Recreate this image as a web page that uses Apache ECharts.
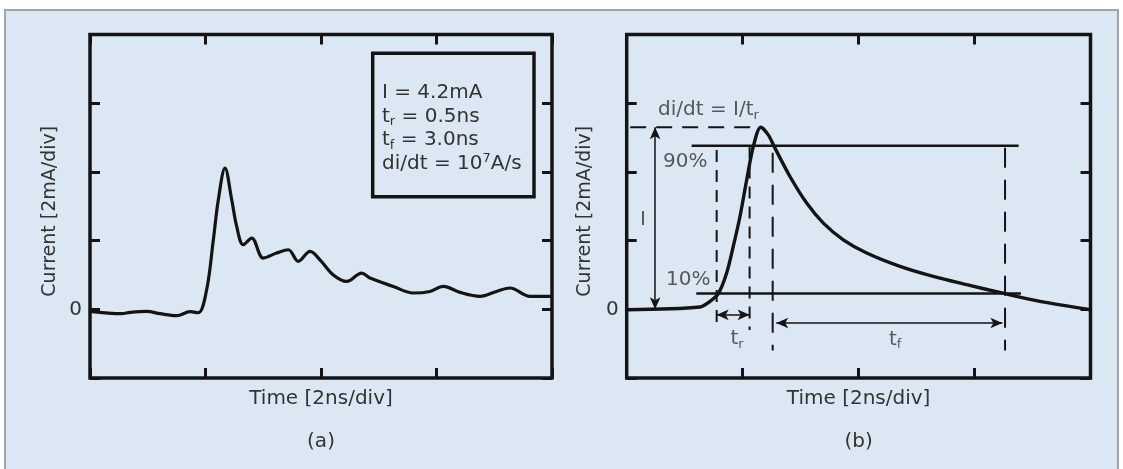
<!DOCTYPE html>
<html>
<head>
<meta charset="utf-8">
<script src="https://cdn.jsdelivr.net/npm/echarts@6/dist/echarts.min.js"></script>
<style>
html,body{margin:0;padding:0;background:#ffffff;}
#chart{width:1123px;height:469px;}
</style>
</head>
<body>
<div id="chart"></div>
<script>
// ---------- DATA (time in divisions of 2 ns, current in divisions of 2 mA) ----------
// (a) measured waveform
const timeA = [0, 0.274, 0.346, 0.491, 0.606, 0.751, 0.866, 0.938, 1.010, 1.068, 1.111, 1.169, 1.227, 1.270, 1.327, 1.400, 1.500, 1.616, 1.717, 1.803, 1.905, 1.991, 2.107, 2.222, 2.352, 2.424, 2.626, 2.799, 2.944, 3.059, 3.203, 3.377, 3.521, 3.636, 3.810, 4.0];
const currentA = [-0.03, -0.064, -0.045, -0.03, -0.064, -0.093, -0.035, -0.05, 0.285, 1.012, 1.594, 2.055, 1.594, 1.206, 0.940, 1.037, 0.746, 0.819, 0.867, 0.697, 0.842, 0.721, 0.50, 0.406, 0.528, 0.455, 0.333, 0.237, 0.26, 0.333, 0.246, 0.188, 0.26, 0.310, 0.188, 0.188];

// (b) idealised pulse
const timeB = [0, 0.632, 0.718, 0.790, 0.862, 0.919, 0.977, 1.035, 1.092, 1.156, 1.221, 1.279, 1.408, 1.552, 1.696, 1.868, 2.070, 2.357, 2.644, 2.932, 3.263, 3.564, 4.0];
const currentB = [-0.006, 0.033, 0.115, 0.227, 0.528, 0.915, 1.351, 1.885, 2.369, 2.651, 2.539, 2.346, 1.933, 1.546, 1.255, 1.012, 0.819, 0.624, 0.478, 0.358, 0.227, 0.115, -0.006];

// (b) annotation values
const peakLevel = 2.65;          // I
const level90 = 2.38;            // 90 % line
const level10 = 0.23;            // 10 % line
const peakDashX = [0.03, 1.12];
const line90X = [0.56, 3.38];
const line10X = [0.60, 3.40];
const trX = [0.776, 1.06];       // rise-time markers
const trTop = [2.32, 2.37];
const trBottom = -0.30;
const tfX = [1.259, 3.263];      // fall-time markers
const tfTop = [2.28, 2.35];
const tfBottom = -0.60;
const ampArrowX = 0.245;
const trArrowY = -0.08;
const tfArrowY = -0.20;
const tfArrowX = [1.29, 3.24];

// (b) text labels
const annotText  = ['di/dt = I/t{sub|r}', '90%', '10%', 'I', 't{sub|r}', 't{sub|f}'];
const annotX     = [0.27, 0.313, 0.339, 0.14, 0.951, 2.315];
const annotY     = [2.90, 2.15, 0.43, 1.30, -0.43, -0.44];
const annotAlign = ['left', 'left', 'left', 'center', 'center', 'center'];

// (a) parameter box
const paramLines = ['I = 4.2mA', 't{sub|r} = 0.5ns', 't{sub|f} = 3.0ns', 'di/dt = 10{sup|7}A/s'];

// axis texts
const xAxisTitle = 'Time [2ns/div]';
const yAxisTitle = 'Current [2mA/div]';
const panelLabels = ['(a)', '(b)'];

// ---------- STYLE ----------
const FONT = 'DejaVu Sans';
const INK = '#141414';
const TXT = '#333333';
const BG = '#dbe8f4';
const richStyles = {
  sub: {fontSize: 13, lineHeight: 13, verticalAlign: 'bottom', fontFamily: FONT, color: TXT},
  sup: {fontSize: 13, lineHeight: 13, verticalAlign: 'top', fontFamily: FONT, color: TXT}
};

const grids = [
  {left: 90, top: 34.5, width: 462, height: 343.5},
  {left: 626.7, top: 34.5, width: 463.8, height: 343.5}
];

const tick = {show: true, inside: true, length: 10, lineStyle: {color: INK, width: 3}};
const xAxes = [], yAxes = [];
grids.forEach((g, gi) => {
  const xc = {type: 'value', gridIndex: gi, min: 0, max: 4, interval: 1,
    axisLine: {show: false, onZero: false}, splitLine: {show: false}, axisTick: tick, axisLabel: {show: false}};
  xAxes.push(Object.assign({}, xc, {position: 'bottom', name: xAxisTitle, nameLocation: 'middle', nameGap: 11,
    nameTextStyle: {fontFamily: FONT, fontSize: 20, color: TXT}}));
  xAxes.push(Object.assign({}, xc, {position: 'top'}));
  const yc = {type: 'value', gridIndex: gi, min: -1, max: 4, interval: 1,
    axisLine: {show: false, onZero: false}, splitLine: {show: false}, axisTick: tick};
  yAxes.push(Object.assign({}, yc, {position: 'left',
    axisLabel: {show: true, margin: 8, formatter: v => (v === 0 ? '0' : ''), fontFamily: FONT, fontSize: 20, color: TXT},
    name: yAxisTitle, nameLocation: 'middle', nameGap: gi === 0 ? 30 : 32,
    nameTextStyle: {fontFamily: FONT, fontSize: 19, color: TXT, padding: [0, 10, 0, 0]}}));
  yAxes.push(Object.assign({}, yc, {position: 'right', axisLabel: {show: false}}));
});

function seg(pts, style, extra) {
  return Object.assign({type: 'line', xAxisIndex: 2, yAxisIndex: 2, data: pts, symbol: 'none',
    silent: true, lineStyle: Object.assign({color: INK}, style)}, extra || {});
}

const series = [
  {type: 'line', name: 'measured', xAxisIndex: 0, yAxisIndex: 0, symbol: 'none', smooth: 0.35,
    data: timeA.map((t, i) => [t, currentA[i]]), lineStyle: {color: INK, width: 3.2}},
  {type: 'line', name: 'pulse', xAxisIndex: 2, yAxisIndex: 2, symbol: 'none', smooth: 0.3,
    data: timeB.map((t, i) => [t, currentB[i]]), lineStyle: {color: INK, width: 3.4}},
  seg([[peakDashX[0], peakLevel], [peakDashX[1], peakLevel]], {width: 2, type: [16, 10]}),
  seg([[line90X[0], level90], [line90X[1], level90]], {width: 2.5}),
  seg([[line10X[0], level10], [line10X[1], level10]], {width: 2.5}, {
    markLine: {silent: true, symbol: ['arrow', 'arrow'], symbolSize: [8, 12],
      lineStyle: {type: 'solid', color: INK, width: 1.5}, label: {show: false},
      data: [
        [{coord: [ampArrowX, peakLevel]}, {coord: [ampArrowX, 0]}],
        [{coord: [trX[0], trArrowY]}, {coord: [trX[1], trArrowY]}],
        [{coord: [tfArrowX[0], tfArrowY]}, {coord: [tfArrowX[1], tfArrowY]}]
      ]}
  })
];
trX.forEach((x, i) => series.push(seg([[x, trTop[i]], [x, trBottom]], {width: 2, type: [12, 8]})));
tfX.forEach((x, i) => series.push(seg([[x, tfTop[i]], [x, tfBottom]], {width: 2, type: [20, 12]})));

series.push({type: 'scatter', xAxisIndex: 2, yAxisIndex: 2, symbolSize: 0, silent: true,
  data: annotText.map((t, i) => ({
    value: [annotX[i], annotY[i]],
    label: {show: true, formatter: t, position: annotAlign[i] === 'left' ? 'right' : 'inside', distance: 0,
      fontFamily: FONT, fontSize: 20, lineHeight: 24, color: TXT, rich: richStyles}
  }))
});

const graphic = [
  {type: 'rect', z: -100, silent: true, shape: {x: 5, y: 10, width: 1113, height: 480},
    style: {fill: BG, stroke: '#a4a4a4', lineWidth: 2}},
  {type: 'rect', silent: true, shape: {x: 372.7, y: 53.3, width: 161.3, height: 143.4},
    style: {fill: 'none', stroke: INK, lineWidth: 3.5}},
  {type: 'text', silent: true, x: 382, y: 81.5,
    style: {text: paramLines.join('\n'), fill: TXT, font: '20px "DejaVu Sans"', lineHeight: 23.5,
      rich: {sub: {fontSize: 13, lineHeight: 13, verticalAlign: 'bottom', fontFamily: FONT, fill: TXT},
             sup: {fontSize: 13, lineHeight: 13, verticalAlign: 'top', fontFamily: FONT, fill: TXT}}}},
  {type: 'text', silent: true, x: 321, y: 441.7,
    style: {text: panelLabels[0], fill: TXT, font: '20px "DejaVu Sans"', textAlign: 'center', textVerticalAlign: 'middle'}},
  {type: 'text', silent: true, x: 858.6, y: 441.7,
    style: {text: panelLabels[1], fill: TXT, font: '20px "DejaVu Sans"', textAlign: 'center', textVerticalAlign: 'middle'}}
];

const chart = echarts.init(document.getElementById('chart'), null, {renderer: 'canvas'});
chart.setOption({
  animation: false,
  backgroundColor: '#ffffff',
  grid: grids.map(g => Object.assign({show: true, borderColor: INK, borderWidth: 3.5, backgroundColor: 'transparent', containLabel: false}, g)),
  xAxis: xAxes,
  yAxis: yAxes,
  series: series,
  graphic: graphic
});
</script>
</body>
</html>
